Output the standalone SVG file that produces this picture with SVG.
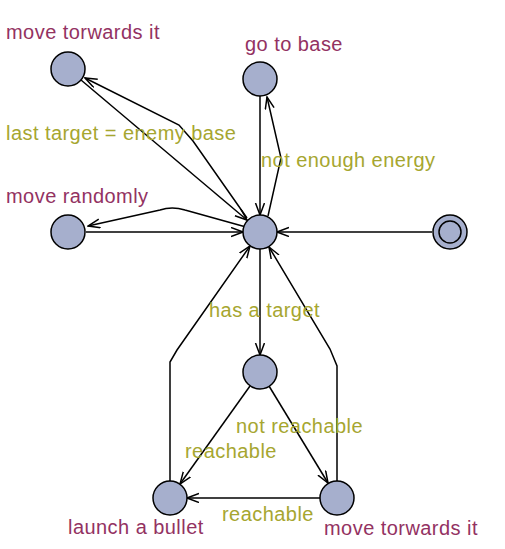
<svg xmlns="http://www.w3.org/2000/svg" width="505" height="549" viewBox="0 0 505 549">
<style>
.loc{fill:#A6AFCD;stroke:#000;stroke-width:1.5}
.edge{fill:none;stroke:#000;stroke-width:1.5;marker-end:url(#arr)}
.name{font-family:"Liberation Sans",Arial,sans-serif;font-size:20px;letter-spacing:0.45px;fill:#933262}
.lab{font-family:"Liberation Sans",Arial,sans-serif;font-size:20px;letter-spacing:0.45px;fill:#A6A630}
</style>
<defs>
<marker id="arr" viewBox="0 0 13 11" refX="12" refY="5" markerWidth="13" markerHeight="11" markerUnits="userSpaceOnUse" orient="auto">
<path d="M0,0.5 L12,5 L0,9.5" fill="none" stroke="#000" stroke-width="1.5"/>
</marker>
</defs>
<rect width="505" height="549" fill="#fff"/>
<g id="connectors">
<path class="edge" d="M81,80 L247,220"/>
<path class="edge" d="M247,218 L193,141 L179,125 L85,78"/>
<path class="edge" d="M260,96 L260,215"/>
<path class="edge" d="M268,216 L281,158 L267,97"/>
<path class="edge" d="M86,232 L243,232"/>
<path class="edge" d="M246,227 L185,210 Q172,206 160,210 L88,226"/>
<path class="edge" d="M432,232 L277,232"/>
<path class="edge" d="M260,249 L260,355"/>
<path class="edge" d="M250,386 L180,484"/>
<path class="edge" d="M269,386 L328,483"/>
<path class="edge" d="M320,498 L187,498"/>
<path class="edge" d="M170,481 L170,362 L177,350 L250,246"/>
<path class="edge" d="M337,481 L337,366 L330,349 L269,247"/>
</g>
<g id="edge-labels">
<text class="lab" x="6" y="140">last target = enemy base</text>
<text class="lab" x="261" y="167">not enough energy</text>
<text class="lab" x="209" y="317">has a target</text>
<text class="lab" x="236" y="433">not reachable</text>
<text class="lab" x="185" y="458">reachable</text>
<text class="lab" x="222" y="521">reachable</text>
</g>
<g id="n-move-towards-top"><circle class="loc" cx="68" cy="69" r="17"/><text class="name" x="6" y="39">move torwards it</text></g>
<g id="n-go-to-base"><circle class="loc" cx="260" cy="79" r="17"/><text class="name" x="245" y="51">go to base</text></g>
<g id="n-center"><circle class="loc" cx="260" cy="232" r="17"/></g>
<g id="n-move-randomly"><circle class="loc" cx="68" cy="232" r="17"/><text class="name" x="6" y="203">move randomly</text></g>
<g id="n-init"><circle class="loc" cx="450" cy="232" r="17"/><circle cx="450" cy="232" r="11" fill="none" stroke="#000" stroke-width="1.5"/></g>
<g id="n-target"><circle class="loc" cx="260" cy="372" r="17"/></g>
<g id="n-launch"><circle class="loc" cx="170" cy="498" r="17"/><text class="name" x="68" y="534">launch a bullet</text></g>
<g id="n-move-towards-bottom"><circle class="loc" cx="337" cy="498" r="17"/><text class="name" x="324" y="535">move torwards it</text></g>
</svg>
